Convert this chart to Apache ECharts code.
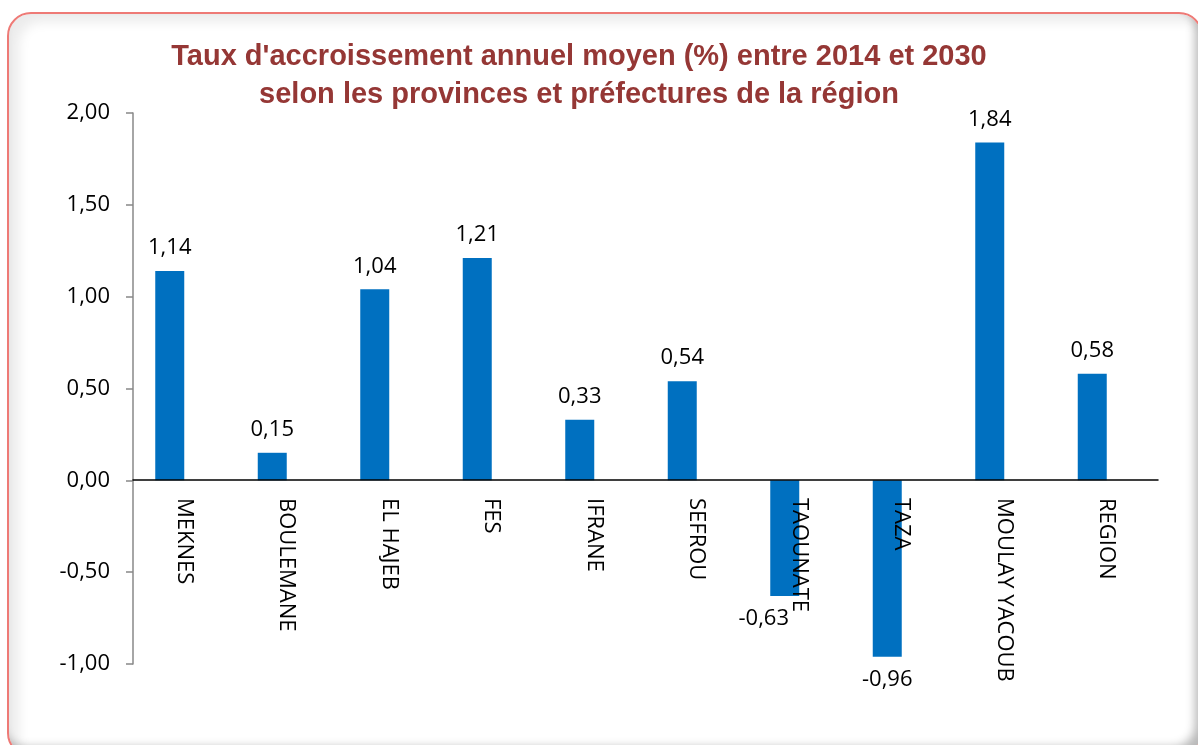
<!DOCTYPE html>
<html>
<head>
<meta charset="utf-8">
<script src="https://cdn.jsdelivr.net/npm/echarts@6/dist/echarts.min.js"></script>
<style>
  html, body { margin: 0; padding: 0; background: #fff; }
  #frame {
    position: absolute; left: 7px; top: 12px; width: 1196px; height: 745px;
    box-sizing: border-box; border: 2px solid #ee7a76; border-radius: 24px;
    box-shadow: inset 10px 8px 12px rgba(0,0,0,0.08), inset -6px -8px 10px rgba(0,0,0,0.28);
  }
  #chart { position: absolute; left: 0; top: 0; width: 1198px; height: 745px; }
</style>
</head>
<body>
<div id="frame"></div>
<div id="chart"></div>
<script>
// provinces et préfectures
var categories = ['MEKNES', 'BOULEMANE', 'EL HAJEB', 'FES', 'IFRANE', 'SEFROU', 'TAOUNATE', 'TAZA', 'MOULAY YACOUB', 'REGION']
var values = [1.14, 0.15, 1.04, 1.21, 0.33, 0.54, -0.63, -0.96, 1.84, 0.58]
var empty = categories.map(function() { return null })

function fr(v) {
  return v.toFixed(2).replace('.', ',')
}

var chart = echarts.init(document.getElementById('chart'))
chart.setOption({
  animation: false,
  title: {
    text: "Taux d'accroissement annuel moyen (%) entre 2014 et 2030\nselon les provinces et préfectures de la région",
    left: 574,
    top: 33,
    textAlign: 'center',
    textStyle: {
      fontFamily: 'Liberation Sans',
      fontSize: 29,
      fontWeight: 'bold',
      color: '#953735',
      lineHeight: 38
    }
  },
  grid: { left: 133, right: 40, top: 113, bottom: 81, outerBoundsMode: 'none', containLabel: false },
  xAxis: {
    type: 'category',
    data: categories,
    position: 'bottom',
    offset: -184, // axe des catégories placé sur le zéro
    z: 5,
    axisLine: { onZero: false, lineStyle: { color: '#000', width: 1.5 } },
    axisTick: { show: false },
    axisLabel: {
      rotate: -90,
      margin: 18,
      fontFamily: 'Open Sans',
      fontSize: 22,
      color: '#000'
    }
  },
  yAxis: {
    type: 'value',
    min: -1,
    max: 2,
    interval: 0.5,
    splitLine: { show: false },
    axisLine: { show: true, lineStyle: { color: '#888', width: 1.5 } },
    axisTick: { show: true, length: 7, lineStyle: { color: '#888', width: 1.5 } },
    axisLabel: {
      margin: 23,
      fontFamily: 'Open Sans',
      fontSize: 22,
      color: '#000',
      formatter: fr
    }
  },
  series: [
    {
      type: 'bar',
      barWidth: 29,
      barGap: '0%',
      itemStyle: { color: '#0070C0' },
      data: values.map(function(v, i) {
        return {
          value: v,
          label: {
            position: v < 0 ? 'bottom' : 'top',
            offset: categories[i] === 'TAOUNATE' ? [-21, 0] : [0, 0]
          }
        }
      }),
      label: {
        show: true,
        distance: 12,
        fontFamily: 'Open Sans',
        fontSize: 22,
        color: '#000',
        formatter: function(p) { return fr(p.value) }
      }
    },
    {
      type: 'bar',
      barWidth: 29,
      data: empty
    }
  ]
})
</script>
</body>
</html>
